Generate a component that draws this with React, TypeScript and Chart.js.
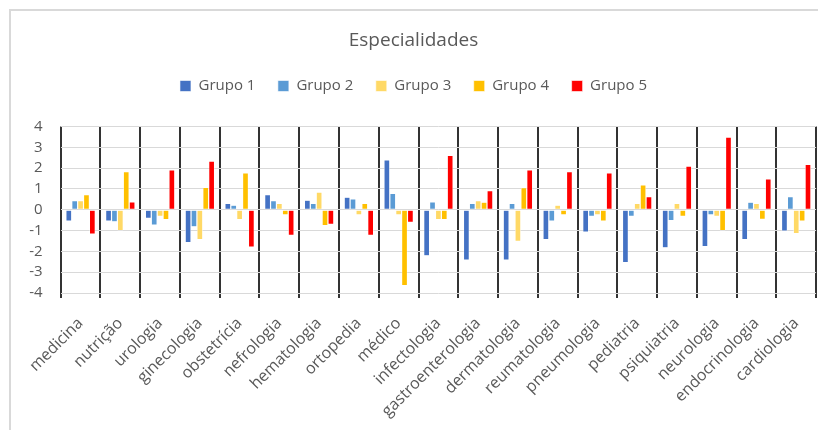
import React, { useEffect, useRef } from "react";
import { Chart, registerables } from "chart.js";

Chart.register(...registerables);

const categories = [
  "medicina", "nutrição", "urologia", "ginecologia", "obstetrícia", "nefrologia",
  "hematologia", "ortopedia", "médico", "infectologia", "gastroenterologia",
  "dermatologia", "reumatologia", "pneumologia", "pediatria", "psiquiatria",
  "neurologia", "endocrinologia", "cardiologia",
];

const grupo1 = [-0.54, -0.54, -0.41, -1.58, 0.3, 0.73, 0.46, 0.6, 2.39, -2.21, -2.42, -2.42, -1.44, -1.07, -2.54, -1.83, -1.77, -1.44, -1.03];
const grupo2 = [0.44, -0.58, -0.74, -0.82, 0.22, 0.44, 0.3, 0.52, 0.79, 0.38, 0.3, 0.3, -0.54, -0.32, -0.32, -0.52, -0.25, 0.36, 0.63];
const grupo3 = [0.44, -1.0, -0.32, -1.44, -0.47, 0.3, 0.85, -0.25, -0.25, -0.47, 0.44, -1.52, 0.22, -0.25, 0.3, 0.3, -0.32, 0.3, -1.14];
const grupo4 = [0.73, 1.83, -0.47, 1.07, 1.77, -0.25, -0.76, 0.3, -3.65, -0.47, 0.36, 1.06, -0.25, -0.54, 1.2, -0.32, -1.0, -0.46, -0.54];
const grupo5 = [-1.17, 0.38, 1.91, 2.34, -1.8, -1.23, -0.7, -1.23, -0.6, 2.61, 0.92, 1.91, 1.83, 1.77, 0.63, 2.1, 3.49, 1.48, 2.18];

const seriesNames = ["Grupo 1", "Grupo 2", "Grupo 3", "Grupo 4", "Grupo 5"];
const seriesColors = ["#4472C4", "#5B9BD5", "#FFD966", "#FFC000", "#FF0000"];
const yTicks = [-4, -3, -2, -1, 0, 1, 2, 3, 4];

const FONT = "'Open Sans', 'Noto Sans', sans-serif";
const GRAY = "#595959";

const frame = {
  id: "frame",
  beforeDraw(chart: any) {
    const ctx = chart.ctx;
    ctx.save();
    ctx.strokeStyle = "#d9d9d9";
    ctx.lineWidth = 2;
    ctx.strokeRect(2, 2, chart.width + 20, chart.height + 20);
    ctx.restore();
  },
};

const legendSpacer = {
  id: "legendSpacer",
  beforeInit(chart: any) {
    const legend = chart.legend;
    if (!legend) return;
    const orig = legend.fit;
    legend.fit = function () {
      orig.call(this);
      this.height += 23;
    };
  },
};

export default function App() {
  const ref = useRef<HTMLCanvasElement>(null);
  useEffect(() => {
    if (!ref.current) return;
    const all = [grupo1, grupo2, grupo3, grupo4, grupo5];
    const chart = new Chart(ref.current, {
      type: "bar",
      data: {
        labels: categories,
        datasets: all.map((d, i) => ({
          label: seriesNames[i],
          data: d,
          backgroundColor: seriesColors[i],
          borderColor: "#ffffff",
          borderWidth: 0.6,
          borderSkipped: false,
          categoryPercentage: 0.74,
          barPercentage: 1.0,
        })),
      },
      options: {
        animation: false,
        responsive: false,
        maintainAspectRatio: false,
        layout: { padding: { left: 0, right: 7, top: 0, bottom: 0 } },
        plugins: {
          title: {
            display: true,
            text: "Especialidades",
            color: GRAY,
            font: { family: FONT, size: 19, weight: "normal" },
            padding: { top: 21.6, bottom: 3.6 },
          },
          legend: {
            display: true,
            position: "top",
            labels: {
              color: GRAY,
              font: { family: FONT, size: 15 },
              boxWidth: 11,
              boxHeight: 11,
              padding: 22.5,
            },
          },
          tooltip: { enabled: false },
        },
        scales: {
          x: {
            grid: {
              offset: true,
              color: "#333333",
              lineWidth: 2,
              drawTicks: true,
              tickLength: 5,
            },
            border: { display: false },
            ticks: {
              color: GRAY,
              font: { family: FONT, size: 16 },
              minRotation: 45,
              maxRotation: 45,
              autoSkip: false,
              padding: 16,
            },
            afterFit: (s: any) => { s.height = 137; },
          },
          y: {
            min: -4,
            max: 4,
            afterBuildTicks: (s: any) => { s.ticks = yTicks.map((v) => ({ value: v })); },
            grid: { color: "#d9d9d9", lineWidth: 1, drawTicks: false },
            border: { display: false },
            ticks: {
              color: GRAY,
              font: { family: FONT, size: 15 },
              padding: 18,
              autoSkip: false,
              stepSize: 1,
            },
            afterFit: (s: any) => { s.width = 52.7; },
          },
        },
      },
      plugins: [frame, legendSpacer],
    });
    return () => chart.destroy();
  }, []);
  return (
    <div style={{ width: 818, height: 422 }}>
      <canvas ref={ref} width={818} height={422} style={{ width: 818, height: 422, display: "block" }} />
    </div>
  );
}
